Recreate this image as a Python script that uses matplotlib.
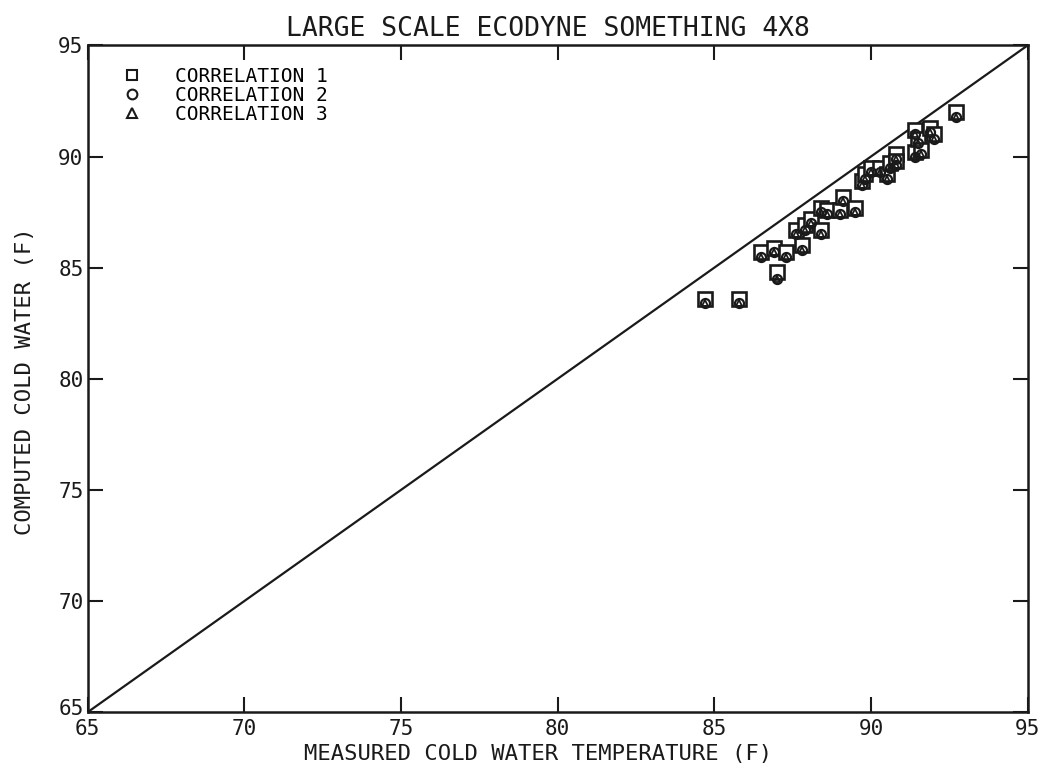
import matplotlib
matplotlib.use('Agg')
import matplotlib.pyplot as plt
import matplotlib.transforms as mtransforms
from matplotlib.lines import Line2D

FONT = 'DejaVu Sans Mono'
INK = '#1a1a1a'

# measured cold water temperature (F)
measured = [84.7, 85.8, 86.5, 86.9, 87.0, 87.3, 87.6, 87.8, 87.9, 88.1, 88.4,
            88.4, 88.6, 89.0, 89.1, 89.5, 89.7, 89.8, 90.0, 90.3, 90.5, 90.6,
            90.8, 90.8, 91.4, 91.4, 91.5, 91.6, 91.9, 92.0, 92.7]
# computed cold water temperature (F), one list per correlation
corr1 = [83.6, 83.6, 85.7, 85.9, 84.8, 85.7, 86.7, 86.0, 86.9, 87.2, 87.7,
         86.7, 87.6, 87.6, 88.2, 87.7, 88.9, 89.2, 89.5, 89.5, 89.2, 89.7,
         90.1, 89.8, 90.2, 91.2, 90.8, 90.3, 91.3, 91.0, 92.0]
corr2 = [83.4, 83.4, 85.5, 85.7, 84.5, 85.5, 86.5, 85.8, 86.7, 87.0, 87.5,
         86.5, 87.4, 87.4, 88.0, 87.5, 88.7, 89.0, 89.3, 89.3, 89.0, 89.5,
         89.9, 89.6, 90.0, 91.0, 90.6, 90.1, 91.1, 90.8, 91.8]
corr3 = [83.4, 83.4, 85.5, 85.7, 84.5, 85.5, 86.5, 85.8, 86.7, 87.0, 87.5,
         86.5, 87.4, 87.4, 88.0, 87.5, 88.7, 89.0, 89.3, 89.3, 89.0, 89.5,
         89.9, 89.6, 90.0, 91.0, 90.6, 90.1, 91.1, 90.8, 91.8]

ticks = [65, 70, 75, 80, 85, 90, 95]
labels = ['CORRELATION 1', 'CORRELATION 2', 'CORRELATION 3']

fig = plt.figure(figsize=(10.55, 7.7), dpi=100)
ax = fig.add_axes([0.083, 0.075, 0.891, 0.866])

# perfect agreement line
ax.plot([65, 95], [65, 95], color=INK, lw=1.6, zorder=1)

ax.plot(measured, corr1, ls='none', marker='s', ms=10.5, mfc='white',
        mec=INK, mew=1.9, zorder=2)
ax.plot(measured, corr2, ls='none', marker='o', ms=6.5, mfc='none',
        mec=INK, mew=1.6, zorder=3)
ax.plot(measured, corr3, ls='none', marker='^', ms=4.5, mfc='none',
        mec=INK, mew=1.3, zorder=4)

ax.set_xlim(65, 95)
ax.set_ylim(65, 95)
ax.set_xticks(ticks)
ax.set_yticks(ticks)
ax.tick_params(direction='in', length=11, width=1.5, top=True, right=True,
               labelsize=15, colors=INK)
ax.tick_params(axis='x', pad=5)
ax.tick_params(axis='y', pad=3)
for lab in ax.get_xticklabels() + ax.get_yticklabels():
    lab.set_fontfamily(FONT)
for sp in ax.spines.values():
    sp.set_linewidth(1.8)
    sp.set_color(INK)

# the two "65" labels share the corner; lift the y one a little
lift = mtransforms.ScaledTranslation(0, 4 / 72, fig.dpi_scale_trans)
first = ax.get_yticklabels()[0]
first.set_transform(first.get_transform() + lift)

handles = [
    Line2D([], [], ls='none', marker='s', ms=7, mfc='none', mec=INK, mew=1.5),
    Line2D([], [], ls='none', marker='o', ms=7, mfc='none', mec=INK, mew=1.5),
    Line2D([], [], ls='none', marker='^', ms=7, mfc='none', mec=INK, mew=1.5),
]
ax.legend(handles, labels, loc='upper left', bbox_to_anchor=(0.027, 0.982),
          frameon=False, handlelength=1.0, handletextpad=1.7,
          labelspacing=0.0, borderpad=0,
          prop={'family': FONT, 'size': 14})

fig.text(0.519, 0.962, 'LARGE SCALE ECODYNE SOMETHING 4X8', ha='center',
         va='center', fontsize=19, family=FONT, color=INK)
fig.text(0.51, 0.021, 'MEASURED COLD WATER TEMPERATURE (F)', ha='center',
         va='center', fontsize=16, family=FONT, color=INK)
fig.text(0.024, 0.505, 'COMPUTED COLD WATER (F)', ha='center', va='center',
         rotation=90, fontsize=16, family=FONT, color=INK)

fig.savefig('out.png', dpi=100, facecolor='white')
